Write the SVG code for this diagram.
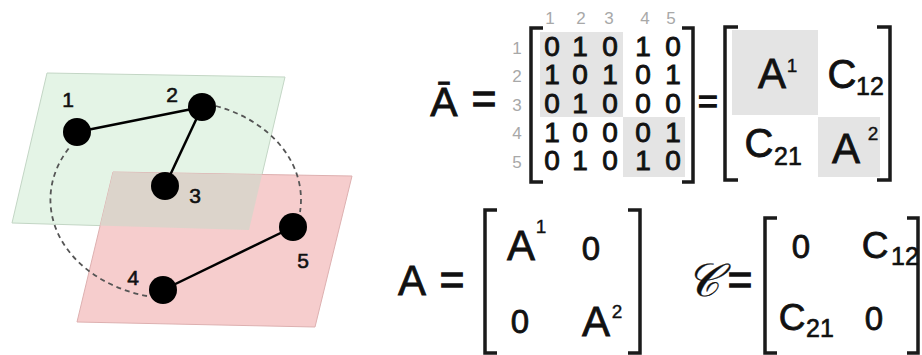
<svg xmlns="http://www.w3.org/2000/svg" width="922" height="355" viewBox="0 0 922 355">
<style>
  text { font-family: "Liberation Sans", Arial, sans-serif; fill: #111; stroke: #111; stroke-width: 0.7; }
  .lbl { font-size: 21px; text-anchor: middle; stroke-width: 0.6; }
  .dig { font-size: 28px; text-anchor: middle; stroke-width: 0.9; }
  .idx { font-size: 17px; text-anchor: middle; fill: #a8a8a8; stroke: none; }
  .big { font-size: 42px; text-anchor: middle; stroke-width: 0.8; }
  .mid { font-size: 33px; text-anchor: middle; stroke-width: 0.8; }
  .sub { font-size: 25px; text-anchor: middle; stroke-width: 0.6; }
  .sup { font-size: 19px; text-anchor: middle; stroke-width: 0.4; }
  .eq { font-size: 42px; text-anchor: middle; stroke-width: 1.4; }
  .br { fill: none; stroke: #1a1a1a; stroke-width: 3.5; }
  .node { fill: #000; }
  .edge { stroke: #000; stroke-width: 2.5; fill: none; }
  .inter { stroke: #555; stroke-width: 1.8; stroke-dasharray: 5 4; fill: none; }
  .cell { fill: #e4e4e4; }
</style>
<defs>
  <clipPath id="greenClip"><polygon points="47,73 285,77 249,230 12,223"/></clipPath>
</defs>

<g id="planes">
  <polygon points="47,73 285,77 249,230 12,223" fill="#e4f4e6" stroke="#c3d6c5" stroke-width="1"/>
  <polygon points="113,172 352,176 315,327 77,322" fill="#f6cdcd" stroke="#ddb0b0" stroke-width="1"/>
  <polygon points="113,172 352,176 315,327 77,322" fill="#dcd4cb" clip-path="url(#greenClip)"/>
</g>

<g id="connectors">
  <line class="edge" x1="77" y1="132" x2="202" y2="107"/>
  <line class="edge" x1="202" y1="107" x2="165" y2="186"/>
  <line class="edge" x1="163" y1="290" x2="293" y2="227"/>
  <path class="inter" d="M 216 106 A 126 99 0 0 1 300 212"/>
  <path class="inter" d="M 147 296 A 126 99 0 0 1 69 148"/>
</g>

<g id="node1"><circle class="node" cx="77" cy="132" r="14"/><text class="lbl" x="68" y="107">1</text></g>
<g id="node2"><circle class="node" cx="202" cy="107" r="14"/><text class="lbl" x="172" y="102">2</text></g>
<g id="node3"><circle class="node" cx="165" cy="186" r="14"/><text class="lbl" x="195" y="203">3</text></g>
<g id="node4"><circle class="node" cx="163" cy="290" r="14"/><text class="lbl" x="133" y="285">4</text></g>
<g id="node5"><circle class="node" cx="293" cy="227" r="14"/><text class="lbl" x="303" y="268">5</text></g>

<g id="matrixAbar">
  <text class="big" x="444" y="116" style="font-size:41px">Ā</text>
  <text class="eq" x="484" y="113">=</text>
  <rect class="cell" x="540" y="32" width="83" height="85"/>
  <rect class="cell" x="623" y="117" width="62" height="60"/>
  <path class="br" d="M 543 28 H 531 V 182 H 543"/>
  <path class="br" d="M 682 28 H 693 V 182 H 682"/>
  <text class="idx" x="550" y="24">1</text><text class="idx" x="581" y="24">2</text><text class="idx" x="609" y="24">3</text><text class="idx" x="645" y="24">4</text><text class="idx" x="671" y="24">5</text>
  <text class="idx" x="517" y="54">1</text><text class="idx" x="517" y="82">2</text><text class="idx" x="517" y="111">3</text><text class="idx" x="517" y="139">4</text><text class="idx" x="517" y="168">5</text>
  <text class="dig" x="552" y="56">0</text><text class="dig" x="580" y="56">1</text><text class="dig" x="610" y="56">0</text><text class="dig" x="643" y="56">1</text><text class="dig" x="673" y="56">0</text>
  <text class="dig" x="552" y="84">1</text><text class="dig" x="580" y="84">0</text><text class="dig" x="610" y="84">1</text><text class="dig" x="643" y="84">0</text><text class="dig" x="673" y="84">1</text>
  <text class="dig" x="552" y="113">0</text><text class="dig" x="580" y="113">1</text><text class="dig" x="610" y="113">0</text><text class="dig" x="643" y="113">0</text><text class="dig" x="673" y="113">0</text>
  <text class="dig" x="552" y="142">1</text><text class="dig" x="580" y="142">0</text><text class="dig" x="610" y="142">0</text><text class="dig" x="643" y="142">0</text><text class="dig" x="673" y="142">1</text>
  <text class="dig" x="552" y="170">0</text><text class="dig" x="580" y="170">1</text><text class="dig" x="610" y="170">0</text><text class="dig" x="643" y="170">1</text><text class="dig" x="673" y="170">0</text>
</g>

<g id="blockMatrix">
  <text class="eq" x="708" y="113" style="font-size:34px">=</text>
  <rect class="cell" x="732" y="30" width="86" height="85"/>
  <rect class="cell" x="818" y="117" width="62" height="60"/>
  <path class="br" d="M 738 27 H 725 V 180 H 738"/>
  <path class="br" d="M 877 27 H 890 V 180 H 877"/>
  <text class="big" x="772" y="88">A</text><text class="sup" x="792" y="72">1</text>
  <text class="big" x="842" y="88" style="font-size:40px">C</text><text class="sub" x="870" y="95">12</text>
  <text class="big" x="759" y="157" style="font-size:40px">C</text><text class="sub" x="788" y="165">21</text>
  <text class="big" x="846" y="163">A</text><text class="sup" x="873" y="140">2</text>
</g>

<g id="matrixA">
  <text class="big" x="412" y="295">A</text>
  <text class="eq" x="452" y="294">=</text>
  <path class="br" d="M 497 210 H 485 V 353 H 497"/>
  <path class="br" d="M 628 210 H 640 V 353 H 628"/>
  <text class="big" x="521" y="260">A</text><text class="sup" x="541" y="233">1</text>
  <text class="mid" x="591" y="260">0</text>
  <text class="mid" x="520" y="333">0</text>
  <text class="big" x="596" y="336">A</text><text class="sup" x="617" y="318">2</text>
</g>

<g id="matrixC">
  <text x="703" y="296" style="font-family:'DejaVu Serif','Liberation Serif',serif;font-size:46px;font-style:italic;text-anchor:middle;stroke-width:0.3">𝒞</text>
  <text class="eq" x="740" y="294">=</text>
  <path class="br" d="M 777 218 H 765 V 353 H 777"/>
  <path class="br" d="M 907 218 H 918 V 353 H 907"/>
  <text class="mid" x="801" y="258">0</text>
  <text class="big" x="875" y="258" style="font-size:37px">C</text><text class="sub" x="905" y="265">12</text>
  <text class="big" x="792" y="330" style="font-size:37px">C</text><text class="sub" x="820" y="337">21</text>
  <text class="mid" x="874" y="330">0</text>
</g>
</svg>
